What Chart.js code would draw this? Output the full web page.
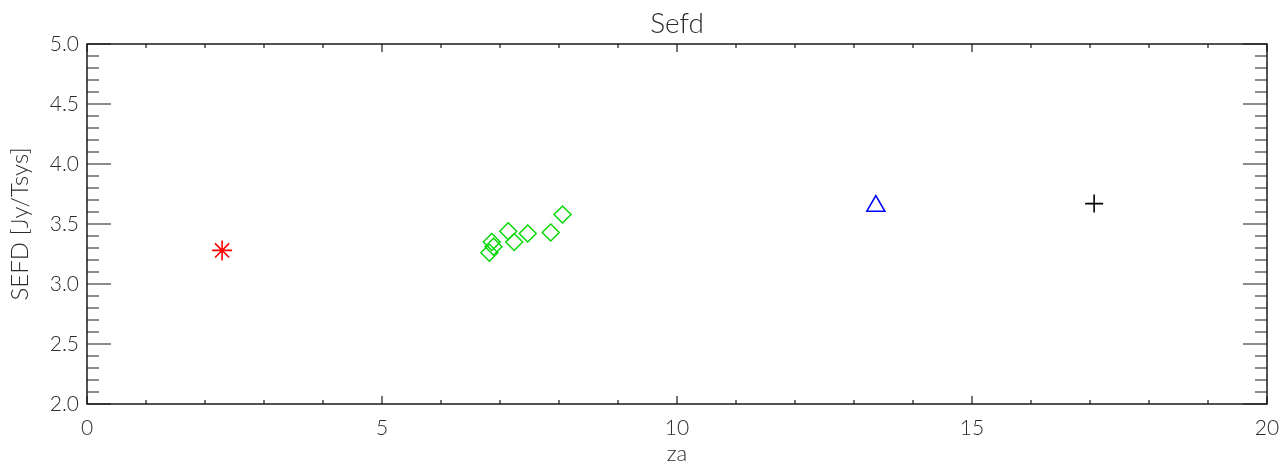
<!DOCTYPE html>
<html>
<head>
<meta charset="utf-8">
<script src="https://cdn.jsdelivr.net/npm/chart.js@4"></script>
<style>
html,body{margin:0;padding:0;background:#fff;}
#wrap{width:1283px;height:466px;}
</style>
</head>
<body>
<div id="wrap"><canvas id="c" width="1283" height="466"></canvas></div>
<script>
const chartTitle = 'Sefd';
const xAxisTitle = 'za';
const yAxisTitle = 'SEFD [Jy/Tsys]';

const asteriskX = [2.29];
const asteriskY = [3.28];
const diamondX = [6.82, 6.89, 6.86, 7.14, 7.24, 7.47, 7.86, 8.06];
const diamondY = [3.26, 3.31, 3.35, 3.44, 3.35, 3.42, 3.43, 3.58];
const triangleX = [13.37];
const triangleY = [3.65];
const plusX = [17.07];
const plusY = [3.67];

const xTickLabels = ['0', '5', '10', '15', '20'];
const yTickLabels = ['2.0', '2.5', '3.0', '3.5', '4.0', '4.5', '5.0'];

function pts(xs, ys) { return xs.map((x, i) => ({x: x, y: ys[i]})); }

const FONT = "Lato, 'DejaVu Sans', sans-serif";
const TXT = '#2a2a2a';

const framePlugin = {
  id: 'frameTicks',
  afterDraw(chart) {
    const {ctx, chartArea: a, scales} = chart;
    const xs = scales.x, ys = scales.y;
    ctx.save();
    ctx.strokeStyle = '#1a1a1a';
    ctx.lineWidth = 1.5;
    ctx.strokeRect(a.left, a.top, a.right - a.left, a.bottom - a.top);
    ctx.lineWidth = 1.2;
    ctx.beginPath();
    for (let i = 0; i <= 20; i++) {
      const px = xs.getPixelForValue(i);
      const len = i % 5 === 0 ? 8 : 4;
      ctx.moveTo(px, a.bottom); ctx.lineTo(px, a.bottom - len);
      ctx.moveTo(px, a.top); ctx.lineTo(px, a.top + len);
    }
    for (let i = 20; i <= 50; i++) {
      const py = ys.getPixelForValue(i / 10);
      const len = i % 5 === 0 ? 24 : 12;
      ctx.moveTo(a.left, py); ctx.lineTo(a.left + len, py);
      ctx.moveTo(a.right, py); ctx.lineTo(a.right - len, py);
    }
    ctx.stroke();
    ctx.restore();
  }
};

new Chart(document.getElementById('c'), {
  type: 'scatter',
  data: {
    datasets: [
      {data: pts(asteriskX, asteriskY), pointStyle: 'star', radius: 10, borderColor: 'rgb(255,0,0)', backgroundColor: 'rgba(0,0,0,0)', borderWidth: 1.6},
      {data: pts(diamondX, diamondY), pointStyle: 'rectRot', radius: 8.5, borderColor: 'rgb(0,215,0)', backgroundColor: 'rgba(0,0,0,0)', borderWidth: 1.4},
      {data: pts(triangleX, triangleY), pointStyle: 'triangle', radius: 10.4, borderColor: 'rgb(0,0,255)', backgroundColor: 'rgba(0,0,0,0)', borderWidth: 1.6},
      {data: pts(plusX, plusY), pointStyle: 'cross', radius: 9, borderColor: '#000', backgroundColor: 'rgba(0,0,0,0)', borderWidth: 1.6}
    ]
  },
  options: {
    responsive: false,
    animation: false,
    events: [],
    layout: {padding: {left: 0, right: 16, top: 0, bottom: 0}},
    plugins: {
      legend: {display: false},
      tooltip: {enabled: false},
      title: {display: true, fullSize: false, text: chartTitle, color: TXT, font: {family: FONT, size: 28, weight: '300', lineHeight: 1.0}, padding: {top: 10, bottom: 6}}
    },
    scales: {
      x: {
        type: 'linear', min: 0, max: 20,
        afterFit(s) { s.height = 62; s.paddingLeft = 0; s.paddingRight = 0; },
        grid: {display: false, drawTicks: false},
        border: {display: false},
        ticks: {stepSize: 5, padding: 12, color: TXT, font: {family: FONT, size: 21, weight: '300'},
          callback: (v) => xTickLabels[Math.round(v / 5)]},
        title: {display: true, text: xAxisTitle, color: TXT, font: {family: FONT, size: 22, weight: '300', lineHeight: 1}, padding: {top: 0, bottom: 1}}
      },
      y: {
        type: 'linear', min: 2, max: 5,
        afterFit(s) { s.width = 87; s.paddingTop = 0; s.paddingBottom = 0; },
        grid: {display: false, drawTicks: false},
        border: {display: false},
        ticks: {stepSize: 0.5, padding: 8, color: TXT, font: {family: FONT, size: 21, weight: '300'},
          callback: (v) => yTickLabels[Math.round((v - 2) / 0.5)]},
        title: {display: true, text: yAxisTitle, color: TXT, font: {family: FONT, size: 24, weight: '300', lineHeight: 1.2}, padding: {top: 6, bottom: 0}}
      }
    }
  },
  plugins: [framePlugin]
});
</script>
</body>
</html>
